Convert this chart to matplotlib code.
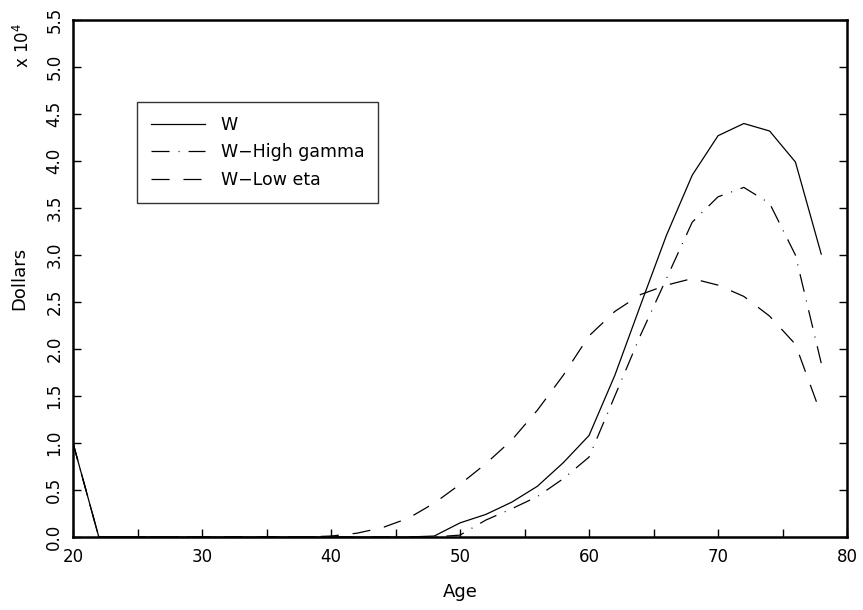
import numpy as np
import matplotlib
matplotlib.use("Agg")
import matplotlib.pyplot as plt

plt.rcParams["font.family"] = ["DejaVu Sans"]
plt.rcParams["lines.scale_dashes"] = False

# ages 20..78 every 2 years
ages = [20, 22, 24, 26, 28, 30, 32, 34, 36, 38, 40, 42, 44, 46, 48,
        50, 52, 54, 56, 58, 60, 62, 64, 66, 68, 70, 72, 74, 76, 78]

# wealth in units of 10^4 dollars
w_base = [1.00, 0, 0, 0, 0, 0, 0, 0, 0, 0, 0, 0, 0, 0, 0.01,
          0.15, 0.24, 0.37, 0.54, 0.79, 1.08, 1.72, 2.47, 3.21, 3.85,
          4.27, 4.40, 4.32, 3.99, 3.01]
w_high_gamma = [1.00, 0, 0, 0, 0, 0, 0, 0, 0, 0, 0, 0, 0, 0, 0,
                0.02, 0.18, 0.30, 0.43, 0.62, 0.85, 1.50, 2.15, 2.75, 3.35,
                3.62, 3.72, 3.55, 3.00, 1.85]
w_low_eta = [1.00, 0, 0, 0, 0, 0, 0, 0, 0, 0, 0.01, 0.04, 0.10, 0.20, 0.36,
             0.56, 0.78, 1.03, 1.35, 1.72, 2.14, 2.40, 2.58, 2.68, 2.75,
             2.68, 2.56, 2.35, 2.05, 1.30]

labels = ["W", "W\u2212High gamma", "W\u2212Low eta"]

fig = plt.figure(figsize=(8.63, 6.10), dpi=100)
ax = fig.add_axes([0.0846, 0.1197, 0.8969, 0.8473])

ax.plot(ages, w_base, color="black", lw=0.9, label=labels[0])
ax.plot(ages, w_high_gamma, color="black", lw=0.9,
        dashes=(13, 6.5, 0.7, 6.5), label=labels[1])
ax.plot(ages, w_low_eta, color="black", lw=0.9,
        dashes=(13, 10), label=labels[2])

ax.set_xlim(20, 80)
ax.set_ylim(0, 5.5)
ax.set_xticks(np.arange(20, 81, 10))
ax.set_xticks(np.arange(25, 80, 10), minor=True)
yt = np.arange(0, 5.51, 0.5)
ax.set_yticks(yt)
ax.set_yticklabels([f"{v:.1f}" for v in yt], rotation=90, va="center")
ax.tick_params(which="both", direction="in", length=6, width=1.0,
               right=True, top=False, labelsize=12, pad=7)
ax.tick_params(axis="x", pad=8)

for side in ax.spines:
    ax.spines[side].set_linewidth(1.8)

ax.set_xlabel("Age", fontsize=13, labelpad=12)
ax.set_ylabel("Dollars", fontsize=13, labelpad=12)
fig.text(0.027, 0.925, r"x 10$^4$", rotation=90, fontsize=12,
         ha="center", va="center")

leg = ax.legend(loc="upper left", bbox_to_anchor=(0.083, 0.842),
                fontsize=12.5, frameon=True, fancybox=False,
                handlelength=3.1, handletextpad=0.9, borderpad=0.8,
                labelspacing=0.55, borderaxespad=0)
leg.get_frame().set_edgecolor("black")
leg.get_frame().set_linewidth(1.0)

fig.savefig("out.png", dpi=100)
